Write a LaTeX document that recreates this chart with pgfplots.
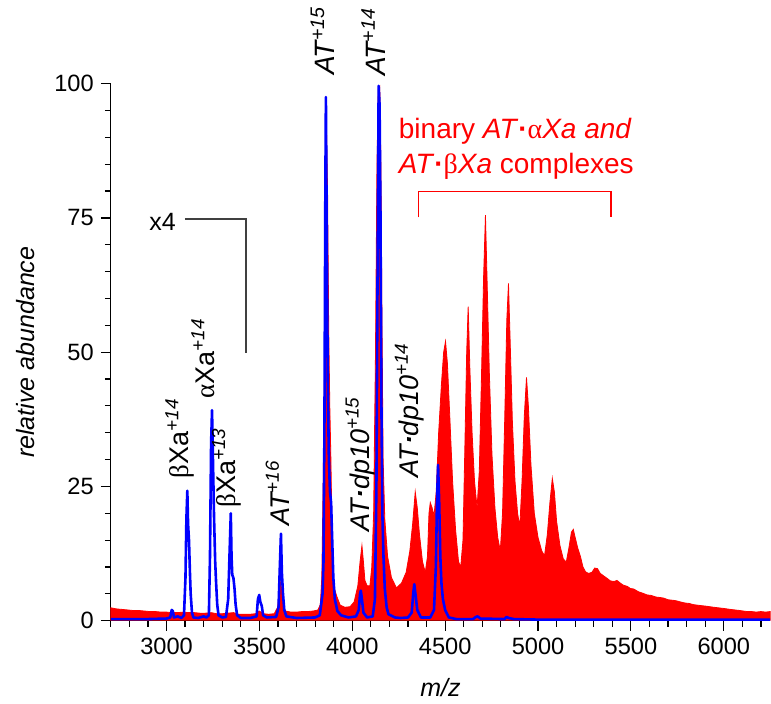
\documentclass[border=0pt]{standalone}
\usepackage{fontspec}
\setmainfont{Liberation Sans}
\newfontfamily\grk{Liberation Serif}
\usepackage{pgfplots}
\pgfplotsset{compat=1.18}

\newcommand{\dotb}{\textbf{·}}
\tikzset{lab/.style={rotate=90, font=\fontsize{13.5}{15}\selectfont, inner sep=0pt}}

\begin{document}
\begin{tikzpicture}
\begin{axis}[
    name=ax,
    scale only axis,
    width=329.7pt, height=268.5pt,
    xmin=2700, xmax=6250, ymin=0, ymax=100,
    axis lines=left,
    axis line style={-, line width=0.65pt},
    clip=false,
    xtick={3000,3500,...,6000},
    minor xtick={2700,2800,...,6200},
    ytick={0,25,50,75,100},
    minor ytick={5,10,...,95},
    tick align=outside,
    major tick length=5pt,
    minor tick length=3pt,
    tick style={line width=0.6pt, black},
    scaled x ticks=false,
    /pgf/number format/1000 sep={},
    /pgf/number format/assume math mode=true,
    ticklabel style={font=\fontsize{11.8}{14}\selectfont},
    xlabel={\itshape m/z},
    ylabel={\itshape relative abundance},
    label style={font=\fontsize{12.5}{14}\selectfont},
    xlabel style={at={(axis description cs:0.5,-0.125)}, anchor=center},
    ylabel style={at={(axis description cs:-0.13,0.5)}, anchor=center},
]
% full spectrum (red)
\addplot[draw=red, fill=red, line width=0.4pt, no marks] coordinates {
(2700,0) (2700,2.4) (2715,2.3) (2730,2.2) (2760,2.1) (2790,2.0) (2820,1.9) (2850,1.9)
(2880,1.8) (2910,1.7) (2940,1.7) (2970,1.6) (3000,1.6) (3030,1.5) (3060,1.5) (3090,1.6)
(3120,1.5) (3150,1.5) (3180,1.4) (3210,1.4) (3240,1.5) (3270,1.3) (3300,1.3) (3330,1.4)
(3360,1.5) (3390,1.2) (3420,1.2) (3450,1.2) (3480,1.3) (3500,1.8) (3520,1.3) (3550,1.2)
(3580,1.3) (3598,2.5) (3606,5) (3613,7.2) (3620,6) (3628,3) (3640,1.8) (3670,1.6)
(3700,1.6) (3730,1.7) (3760,1.7) (3790,1.8) (3815,2) (3828,3) (3836,8) (3843,25)
(3850,45) (3856,80) (3861,92) (3867,80) (3873,55) (3879,40) (3885,30) (3892,14)
(3900,6.4) (3917,4.5) (3935,2.9) (3960,2.5) (3988,2.6) (4010,3.5) (4030,6.5) (4042,11)
(4052,14) (4060,11) (4068,7.5) (4080,6.5) (4095,6.5) (4105,10) (4115,20) (4125,50)
(4133,85) (4140,99) (4148,99.5) (4154,85) (4160,55) (4166,30) (4175,19) (4190,12)
(4211,8) (4238,6.1) (4265,7) (4290,9) (4310,13) (4325,18) (4339,24) (4350,21)
(4362,16) (4378,11) (4393,9) (4405,12) (4413,20) (4420,22) (4430,21) (4440,19.5)
(4452,24) (4465,35) (4480,44) (4492,50) (4502,52) (4512,48) (4525,38) (4540,26)
(4556,17) (4572,11) (4584,10) (4596,15) (4606,32) (4616,50) (4624,58.5) (4633,47)
(4645,35) (4658,26) (4672,21) (4684,28) (4696,46) (4707,64) (4717,75.5) (4726,63)
(4738,46) (4752,31) (4768,21) (4783,15.5) (4797,13) (4809,20) (4821,38) (4832,56)
(4841,62.8) (4850,52) (4862,37) (4876,26) (4890,20) (4902,17.5) (4914,26) (4926,38)
(4938,45.3) (4948,40) (4962,29) (4980,20) (5000,15.5) (5020,13) (5035,12.1) (5050,16)
(5064,22) (5077,26.5) (5088,24) (5100,18.5) (5118,14) (5136,11.5) (5152,10.9) (5166,13.5)
(5180,16.5) (5190,17) (5200,15.5) (5214,13.5) (5228,12) (5242,10) (5256,9.1) (5272,8.8)
(5290,9) (5305,9.8) (5320,9.7) (5335,8.8) (5355,8.3) (5375,7.8) (5390,7.4) (5410,7.3)
(5425,7.5) (5443,7) (5460,6.6) (5480,6.4) (5497,6) (5515,5.9) (5540,5.4) (5565,5.1)
(5587,4.8) (5610,4.7) (5635,4.4) (5660,4.3) (5677,4.2) (5700,3.9) (5725,3.8) (5745,3.7)
(5766,3.5) (5790,3.3) (5815,3.2) (5835,3.0) (5856,2.9) (5880,2.8) (5905,2.7) (5925,2.6)
(5946,2.5) (5970,2.4) (5995,2.3) (6015,2.2) (6036,2.1) (6060,2.0) (6085,1.9) (6105,1.8)
(6126,1.7) (6150,1.7) (6175,1.6) (6200,1.7) (6225,1.6) (6250,1.7) (6250,0)
};
% x4 spectrum (blue)
\addplot[draw=blue, line width=1.3pt, no marks, line join=round] coordinates {
(2700,0.3) (2800,0.3) (2900,0.3) (3000,0.4) (3020,0.6) (3028,2) (3034,1.8) (3040,0.6)
(3060,0.8) (3080,0.5) (3094,1) (3102,8) (3107,19) (3112,24.2) (3116,18) (3121,15)
(3126,9) (3130,5) (3137,1.5) (3145,0.6) (3170,0.5) (3200,0.8) (3215,0.6) (3228,1)
(3234,12) (3240,33) (3245,39.2) (3250,30) (3256,19) (3262,11) (3267,7) (3273,3)
(3280,1) (3300,0.6) (3320,0.7) (3332,4) (3338,11) (3346,20) (3350,12) (3354,8.5)
(3360,8) (3366,6) (3372,3) (3380,1) (3400,0.5) (3450,0.5) (3485,0.8) (3492,4)
(3499,4.8) (3505,3.5) (3513,2.7) (3520,1) (3540,0.6) (3590,0.7) (3603,2.5) (3610,10)
(3616,16.2) (3621,9) (3627,5) (3634,2) (3645,0.8) (3700,0.5) (3800,0.6) (3825,1)
(3840,5) (3845,11) (3850,35) (3855,80) (3858,97.5) (3863,70) (3868,45) (3874,30)
(3880,24) (3886,22) (3892,15) (3898,8) (3906,4) (3920,1.8) (3940,1) (3980,0.6)
(4020,0.8) (4035,2) (4042,5) (4046,5.6) (4052,4) (4060,1.5) (4080,0.6) (4110,0.8)
(4122,4) (4130,25) (4137,70) (4142,99.6) (4147,96) (4152,75) (4157,40) (4162,20)
(4168,12) (4175,6) (4185,2.5) (4195,1.2) (4230,0.6) (4260,0.5) (4300,0.6) (4320,1.5)
(4328,5) (4334,6.8) (4340,5) (4350,2) (4370,0.6) (4420,0.6) (4440,2) (4450,10)
(4456,22) (4462,29) (4468,22) (4474,12) (4480,7) (4488,4) (4500,2) (4520,0.6)
(4560,0.3) (4650,0.3) (4665,0.7) (4675,0.8) (4690,0.4) (4820,0.3) (4830,0.7) (4842,0.5)
(4870,0.3) (5000,0.2) (6250,0.2)
};

% peak labels
\node[lab] at (axis cs:3073,34) {{\grk β}Xa\textsuperscript{\itshape +14}};
\node[lab] at (axis cs:3198,48.9) {{\grk α}Xa\textsuperscript{\itshape +14}};
\node[lab] at (axis cs:3323,28.5) {{\grk β}Xa\textsuperscript{\itshape +13}};
\node[lab] at (axis cs:3598,23.8) {\itshape AT\textsuperscript{+16}};
\node[lab] at (axis cs:4042,29.2) {\itshape AT\dotb dp10\textsuperscript{+15}};
\node[lab] at (axis cs:4307,39.2) {\itshape AT\dotb dp10\textsuperscript{+14}};
\node[lab, font=\fontsize{14}{16}\selectfont] at (axis cs:3840,108) {\itshape AT\textsuperscript{+15}};
\node[lab, font=\fontsize{14}{16}\selectfont] at (axis cs:4113,107.8) {\itshape AT\textsuperscript{+14}};

% x4 marker
\node[font=\fontsize{12.5}{14}\selectfont, inner sep=0pt] at (axis cs:2979,74.2) {x4};
\draw[black!75, line width=0.65pt] (axis cs:3099,74.8) -- (axis cs:3428,74.8) -- (axis cs:3428,49.8);

% complexes bracket
\draw[red, line width=0.6pt] (axis cs:4357,75.1) -- (axis cs:4357,79.9) -- (axis cs:5393,79.9) -- (axis cs:5393,75.1);
\node[red, anchor=base west, inner sep=0pt, font=\fontsize{14}{16}\selectfont] at (axis cs:4249,89.8)
    {binary \textit{AT}\dotb{\grk α}\textit{Xa and}};
\node[red, anchor=base west, inner sep=0pt, font=\fontsize{14}{16}\selectfont] at (axis cs:4249,83.3)
    {\textit{AT}\dotb{\grk β}\textit{Xa} complexes};
\end{axis}
\pgfresetboundingbox
\path (ax.south west) ++(-55.4pt,-41.65pt) rectangle ++(385.5pt,352pt);
\end{tikzpicture}
\end{document}
